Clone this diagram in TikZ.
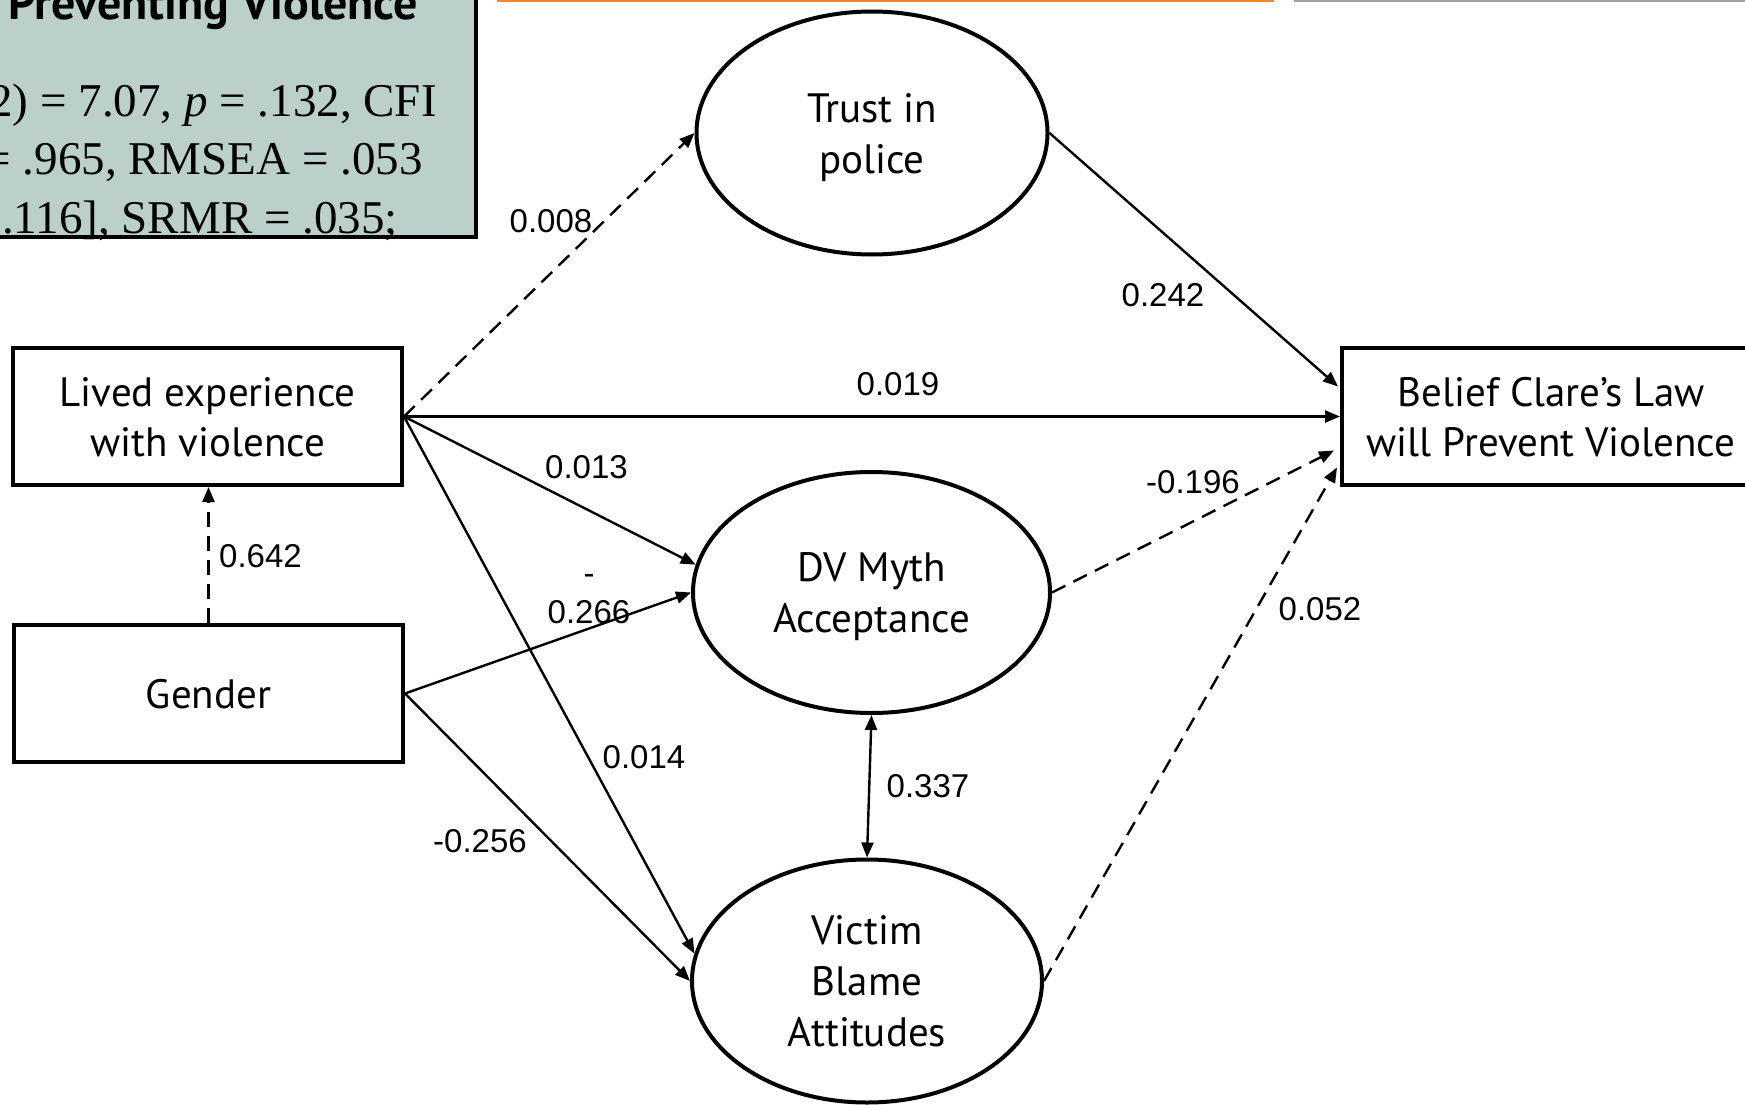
\documentclass[tikz,border=0pt]{standalone}
\usepackage{fontspec}
\setmainfont{Liberation Serif}
\newfontfamily\nodefont{PT Sans}
\newfontfamily\coeffont{Liberation Sans}
\usepackage{xcolor}
\usetikzlibrary{positioning,calc}
\usetikzlibrary{arrows.meta,shapes.geometric}

\definecolor{fitgreen}{HTML}{BBD0CA}
\definecolor{slideorange}{HTML}{F0892A}
\definecolor{slidegray}{HTML}{9EA3AA}

\tikzset{
    obsbox/.style={draw, line width=4pt, minimum width=389pt, minimum height=137pt,
        inner sep=0pt, align=center, text depth=0pt, font=\nodefont\fontsize{41pt}{50pt}\selectfont},
    latvar/.style={ellipse, draw, line width=4pt, inner sep=0pt, align=center, text depth=0pt,
        font=\nodefont\fontsize{41pt}{51pt}\selectfont},
    sig/.style={line width=2.4pt, -{Triangle[length=15pt,width=12pt]}},
    nsig/.style={sig, dash pattern=on 15pt off 9pt},
    coef/.style={inner sep=0pt, align=center, font=\coeffont\fontsize{33pt}{39pt}\selectfont},
    fitline/.style={inner sep=0pt, anchor=base east, font=\fontsize{47pt}{58pt}\selectfont},
}

\begin{document}
\begin{tikzpicture}[x=1pt, y=-1pt]
            \useasboundingbox (0,0) rectangle (1745,1105);

            % slide decoration
            \draw[slideorange, line width=2pt] (497,1) -- (1274,1);
            \draw[slidegray, line width=2pt] (1294,1) -- (1745,1);

            % model fit box (cut by the slide)
            \node[draw, fill=fitgreen, line width=4pt, minimum width=500pt, minimum height=262pt,
                anchor=south east] (fit) at (478,239) {};
            \node[inner sep=0pt, anchor=base west, font=\nodefont\bfseries\fontsize{48pt}{50pt}\selectfont]
                (fithead) at (8,20) {Preventing Violence};
            \node[fitline] (fitA) at (437,117) {2) = 7.07, \textit{p} = .132, CFI};
            \node[fitline] (fitB) at (423,175) {= .965, RMSEA = .053};
            \node[fitline] (fitC) at (398,233) {.116], SRMR = .035;};

            % variables
            \node[obsbox] (lived) at (207.5,416.5) {Lived experience\\with violence};
            \node[obsbox] (gender) at (208.5,693.5) {Gender};
            \node[obsbox, minimum width=418pt] (belief) at (1551,416.5) {Belief Clare’s Law\\will Prevent Violence};
            \node[latvar, minimum width=351pt, minimum height=243pt] (trust) at (872,133) {Trust in\\police};
            \node[latvar, minimum width=357pt, minimum height=241pt] (dvmyth) at (871.5,592.5) {DV Myth\\Acceptance};
            \node[latvar, minimum width=350pt, minimum height=243pt] (blame) at (867,981) {Victim\\Blame\\Attitudes};

            % paths
            \draw[nsig] (lived.east) -- (trust.west);
            \draw[sig] (lived.east) -- (belief.west);
            \draw[sig] (lived.east) -- (dvmyth.171);
            \draw[sig] (lived.east) -- (blame.171);
            \draw[nsig] (gender.north) -- (gender.north |- lived.south);
            \draw[sig] (gender.east) -- (dvmyth.west);
            \draw[sig] (gender.east) -- (blame.west);
            \draw[sig] (trust.east) -- ($(belief.west)+(-2pt,30pt)$);
            \draw[nsig] (dvmyth.east) -- ($(belief.west)+(-6pt,-34pt)$);
            \draw[nsig] (blame.east) -- ($(belief.west)+(-3pt,-51pt)$);
            \draw[line width=2.4pt, {Triangle[length=15pt,width=12pt]}-{Triangle[length=15pt,width=12pt]}]
                (dvmyth.south) -- (blame.north);

            % coefficients
            \node[coef] (c008) at (551,221.5) {0.008};
            \node[coef] (c242) at (1163,295) {0.242};
            \node[coef] (c019) at (898,384) {0.019};
            \node[coef] (c013) at (586.5,467) {0.013};
            \node[coef] (c196) at (1193,482) {-0.196};
            \node[coef] (c642) at (260.5,556.5) {0.642};
            \node[coef] (c266) at (589,599) {-\\0.266};
            \node[coef] (c052) at (1320,609) {0.052};
            \node[coef] (c014) at (644,757) {0.014};
            \node[coef] (c337) at (928,786) {0.337};
            \node[coef] (c256) at (480,841) {-0.256};
        \end{tikzpicture}
\end{document}
